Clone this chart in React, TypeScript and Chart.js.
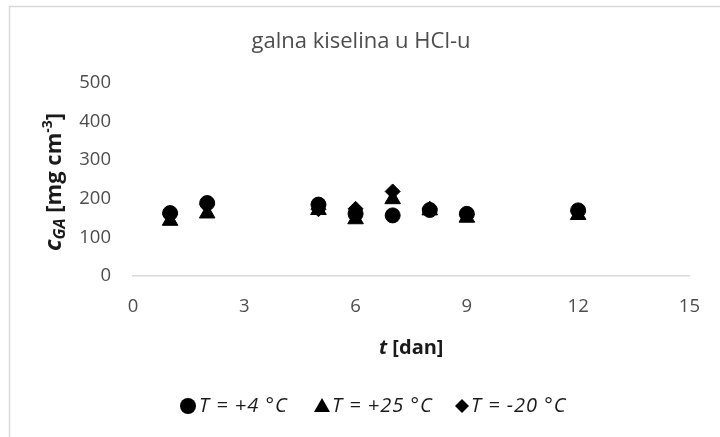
import React, { useEffect, useRef } from "react";
import { Chart, registerables } from "chart.js";

Chart.register(...registerables);

const days = [1, 2, 5, 6, 7, 8, 9, 12];
const tPlus4 = [163, 189, 185, 161, 157, 171, 161, 170];
const tPlus25 = [143, 162, 171, 147, 199, 170, 151, 158];
const tMinus20 = [160, 186, 173, 174, 219, 174, 160, 168];

const seriesNames = ["T = +4 °C", "T = +25 °C", "T = -20 °C"];
const xTicks = [0, 3, 6, 9, 12, 15];
const yTicks = [0, 100, 200, 300, 400, 500];

const chartTitle = "galna kiselina u HCl-u";

const FONT = "'Open Sans', sans-serif";
const TEXT = "#4d4d4d";
const TITLE_DARK = "#1a1a1a";

const decorPlugin = {
  id: "decor",
  afterDraw(chart: any) {
    const ctx = chart.ctx as CanvasRenderingContext2D;
    const area = chart.chartArea;
    ctx.save();
    // outer frame
    ctx.strokeStyle = "#d9d9d9";
    ctx.lineWidth = 1.5;
    ctx.beginPath();
    ctx.moveTo(9.5, 437);
    ctx.lineTo(9.5, 6.5);
    ctx.lineTo(720, 6.5);
    ctx.stroke();

    // title
    ctx.fillStyle = TEXT;
    ctx.font = `22px ${FONT}`;
    ctx.textAlign = "center";
    ctx.textBaseline = "middle";
    ctx.fillText(chartTitle, 361, 42);

    // x axis title
    const cx = (area.left + area.right) / 2;
    const parts1: [string, string][] = [
      ["t", `italic bold 20px ${FONT}`],
      [" [dan]", `bold 20px ${FONT}`],
    ];
    ctx.fillStyle = TITLE_DARK;
    ctx.textAlign = "left";
    ctx.textBaseline = "alphabetic";
    let total = 0;
    for (const [s, f] of parts1) {
      ctx.font = f;
      total += ctx.measureText(s).width;
    }
    let px = cx - total / 2;
    for (const [s, f] of parts1) {
      ctx.font = f;
      ctx.fillText(s, px, 354);
      px += ctx.measureText(s).width;
    }

    // y axis title (rotated)
    ctx.save();
    ctx.translate(61, 182);
    ctx.rotate(-Math.PI / 2);
    const parts2: [string, string, number][] = [
      ["c", `italic bold 24px ${FONT}`, 0],
      ["GA", `italic bold 16px ${FONT}`, 4],
      [" [mg cm", `bold 22px ${FONT}`, 0],
      ["-3", `bold 14px ${FONT}`, -9],
      ["]", `bold 22px ${FONT}`, 0],
    ];
    total = 0;
    for (const [s, f] of parts2) {
      ctx.font = f;
      total += ctx.measureText(s).width;
    }
    px = -total / 2;
    for (const [s, f, dy] of parts2) {
      ctx.font = f;
      ctx.fillText(s, px, dy);
      px += ctx.measureText(s).width;
    }
    ctx.restore();

    // legend
    const ly = 406;
    const items = [
      { style: "circle", x: 188, tx: 199 },
      { style: "triangle", x: 322, tx: 332 },
      { style: "rectRot", x: 462, tx: 471 },
    ];
    items.forEach((it, i) => {
      ctx.fillStyle = "#000";
      ctx.beginPath();
      if (it.style === "circle") {
        ctx.arc(it.x, ly, 8, 0, Math.PI * 2);
      } else if (it.style === "triangle") {
        ctx.moveTo(it.x, ly - 8);
        ctx.lineTo(it.x + 8, ly + 6);
        ctx.lineTo(it.x - 8, ly + 6);
        ctx.closePath();
      } else {
        ctx.moveTo(it.x, ly - 7);
        ctx.lineTo(it.x + 7, ly);
        ctx.lineTo(it.x, ly + 7);
        ctx.lineTo(it.x - 7, ly);
        ctx.closePath();
      }
      ctx.fill();
      const name = seriesNames[i];
      ctx.fillStyle = TITLE_DARK;
      ctx.textBaseline = "middle";
      ctx.textAlign = "left";
      ctx.font = `italic 20px ${FONT}`;
      (ctx as any).letterSpacing = "1px";
      ctx.fillText(name, it.tx, ly);
      (ctx as any).letterSpacing = "0px";
    });
    ctx.restore();
  },
};

export default function App() {
  const ref = useRef<HTMLCanvasElement | null>(null);
  useEffect(() => {
    if (!ref.current) return;
    const mk = (vals: number[]) => days.map((d, i) => ({ x: d, y: vals[i] }));
    const base = {
      backgroundColor: "#000",
      borderColor: "#000",
      borderWidth: 1,
      showLine: false,
    };
    const chart = new Chart(ref.current, {
      type: "scatter",
      data: {
        datasets: [
          { ...base, label: seriesNames[0], data: mk(tPlus4), pointStyle: "circle", pointRadius: 7.5 },
          { ...base, label: seriesNames[1], data: mk(tPlus25), pointStyle: "triangle", pointRadius: 9 },
          { ...base, label: seriesNames[2], data: mk(tMinus20), pointStyle: "rectRot", pointRadius: 7.5 },
        ],
      },
      options: {
        animation: false,
        responsive: false,
        maintainAspectRatio: false,
        layout: { padding: { left: 0, right: 30, top: 83, bottom: 0 } },
        plugins: {
          legend: { display: false },
          title: { display: false },
          tooltip: { enabled: false },
        },
        scales: {
          x: {
            type: "linear",
            min: 0,
            max: 15,
            afterBuildTicks: (s: any) => {
              s.ticks = xTicks.map((v) => ({ value: v }));
            },
            afterFit: (s: any) => {
              s.height = 161;
            },
            grid: { display: false, drawTicks: false },
            border: { display: true, color: "#d9d9d9", width: 1.5 },
            ticks: {
              padding: 20,
              color: TEXT,
              font: { family: FONT, size: 18.5 },
            },
          },
          y: {
            type: "linear",
            min: 0,
            max: 500,
            afterBuildTicks: (s: any) => {
              s.ticks = yTicks.map((v) => ({ value: v }));
            },
            afterFit: (s: any) => {
              s.width = 133;
            },
            grid: { display: false, drawTicks: false },
            border: { display: false },
            ticks: {
              padding: 22,
              color: TEXT,
              font: { family: FONT, size: 18.5 },
            },
          },
        },
      },
      plugins: [decorPlugin],
    });
    return () => chart.destroy();
  }, []);
  return (
    <div style={{ position: "fixed", left: 0, top: 0, width: 720, height: 437, background: "#fff" }}>
      <canvas ref={ref} width={720} height={437} style={{ display: "block" }} />
    </div>
  );
}
